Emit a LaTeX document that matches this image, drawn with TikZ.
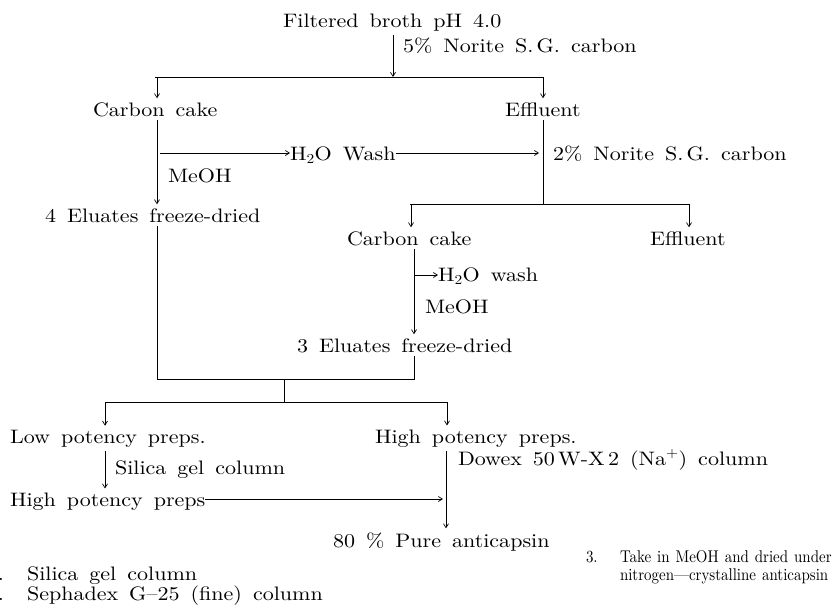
\documentclass[tikz,border=0pt]{standalone}
\usepackage{fontspec}
\setmainfont{lmroman10-regular.otf}[FakeStretch=1.13,WordSpace=1.5]
\newfontfamily\fnfont{lmroman10-regular.otf}[FakeStretch=0.88,WordSpace=1.2,Ligatures=TeX]
\usetikzlibrary{arrows.meta}
\tikzset{
  lbl/.style={anchor=base west,inner sep=0pt,outer xsep=0pt,outer ysep=4pt,font=\fontsize{19.5}{23}\selectfont},
  small/.style={lbl,font=\fnfont\fontsize{17}{20}\selectfont},
  ln/.style={line width=0.7pt},
  arr/.style={ln,-{Straight Barb[length=4pt,width=5pt]}}
}
\begin{document}
\begin{tikzpicture}[x=1pt,y=-1pt]
\useasboundingbox (0,0) rectangle (834,613);
% text nodes
\node[lbl] (broth) at (283,27) {Filtered broth pH 4.0};
\node[lbl] (n5) at (403,52) {5\% Norite S.\,G. carbon};
\node[lbl] (cc1) at (93,116) {Carbon cake};
\node[lbl] (ef1) at (505,116) {Effluent};
\node[lbl] (wash1) at (290,160) {H\textsubscript{2}O Wash};
\node[lbl] (n2) at (553,160) {2\% Norite S.\,G. carbon};
\node[lbl] (meoh1) at (168,182) {MeOH};
\node[lbl] (el4) at (45,222) {4 Eluates freeze-dried};
\node[lbl] (cc2) at (347,245) {Carbon cake};
\node[lbl] (ef2) at (650,245) {Effluent};
\node[lbl] (wash2) at (438,281) {H\textsubscript{2}O wash};
\node[lbl] (meoh2) at (425,313) {MeOH};
\node[lbl] (el3) at (297,352) {3 Eluates freeze-dried};
\node[lbl] (lp) at (10,443) {Low potency preps.};
\node[lbl] (hp) at (375,443) {High potency preps.};
\node[lbl] (sg) at (115,474) {Silica gel column};
\node[lbl] (hp2) at (10,506) {High potency preps};
\node[lbl] (dowex) at (458,465) {Dowex 50\,W-X\,2 (Na\textsuperscript{+}) column};
\node[lbl] (pure) at (333,547) {80 \% Pure anticapsin};
\node[lbl,anchor=base east] (f1n) at (4,580) {1.};
\node[lbl] (f1) at (27,580) {Silica gel column};
\node[lbl,anchor=base east] (f2n) at (4,600) {2.};
\node[lbl] (f2) at (27,600) {Sephadex G--25 (fine) column};
\node[small] (f3n) at (586,562) {3.};
\node[small] (f3a) at (620,562) {Take in MeOH and dried under};
\node[small] (f3b) at (620,580) {nitrogen—crystalline anticapsin};
% junction coordinates
\coordinate (b1) at (393,77);
\coordinate (b1l) at (155,77);
\coordinate (b1r) at (543,77);
\coordinate (c1) at (157,77);
\coordinate (w1) at (160,153);
\coordinate (w1r) at (543,153);
\coordinate (b2l) at (410,204);
\coordinate (b2r) at (690,204);
\coordinate (b2m) at (543,204);
\coordinate (c2) at (411,204);
\coordinate (e2) at (689,204);
\coordinate (v2) at (414,275);
\coordinate (b3l) at (157,379);
\coordinate (b3r) at (414,379);
\coordinate (b3m) at (284,379);
\coordinate (b4m) at (284,402);
\coordinate (b4l) at (105,402);
\coordinate (b4r) at (447,402);
\coordinate (hj) at (446,499);
% connectors
\draw[arr] (broth.south -| b1) -- (b1);
\draw[ln] (b1l) -- (b1r);
\draw[arr] (c1) -- (c1 |- cc1.north);
\draw[arr] (b1r) -- (b1r |- ef1.north);
\draw[arr] (c1 |- cc1.south) -- (c1 |- el4.north);
\draw[arr] (w1) -- (wash1.west |- w1);
\draw[arr] (wash1.east |- w1) -- ([xshift=-4pt]w1r);
\draw[ln] (b1r |- ef1.south) -- (b2m);
\draw[ln] (b2l) -- (b2r);
\draw[arr] (c2) -- (c2 |- cc2.north);
\draw[arr] (e2) -- (e2 |- ef2.north);
\draw[arr] (v2 |- cc2.south) -- (v2 |- el3.north);
\draw[arr] (v2) -- (wash2.west |- v2);
\draw[ln] (c1 |- el4.south) -- (b3l) -- (b3r) -- (b3r |- el3.south);
\draw[ln] (b3m) -- (b4m);
\draw[ln] (b4l) -- (b4r);
\draw[arr] (b4l) -- (b4l |- lp.north);
\draw[arr] (b4r) -- (b4r |- hp.north);
\draw[arr] (b4l |- lp.south) -- (b4l |- hp2.north);
\draw[arr] (hp2.east |- hj) -- ([xshift=-3pt]hj);
\draw[arr] (hj |- hp.south) -- (hj |- pure.north);
\end{tikzpicture}
\end{document}
